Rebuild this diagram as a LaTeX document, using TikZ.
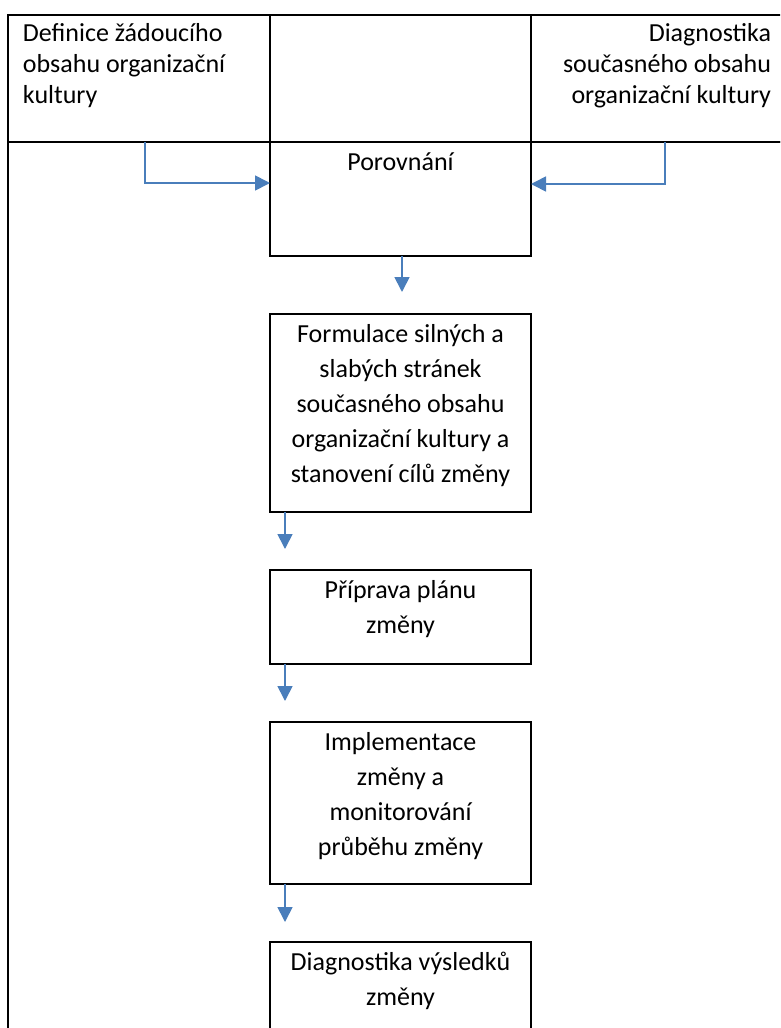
\documentclass[tikz,border=0pt]{standalone}
\usepackage{fontspec}
\setmainfont{Carlito}
\usetikzlibrary{arrows.meta,calc,positioning}
\definecolor{flowblue}{HTML}{4A7EBB}
% obsah bunky / kroku: pevna vyska, text nahore
\newcommand{\cellbody}[3]{\parbox[t][127pt][t]{#1}{#2\rule{0pt}{26pt}#3}}
\newcommand{\stepbody}[2]{\parbox[t][#1][t]{261pt}{\centering\rule{0pt}{28pt}#2}}

\begin{document}
\begin{tikzpicture}[x=1pt, y=-1pt,
  cell/.style={draw, line width=2.4pt, anchor=north west, outer sep=0pt,
    inner xsep=15pt, inner ysep=0pt, font=\fontsize{26}{31}\selectfont},
  stepbox/.style={draw, line width=2.6pt, anchor=north, outer sep=0pt, inner sep=0pt,
    font=\fontsize{26}{35}\selectfont},
  flow/.style={draw=flowblue, line width=1.7pt, -{Triangle[length=15pt,width=15pt]}},
  node distance=58pt]
\useasboundingbox (0,0) rectangle (780,1028);
\clip (0,0) rectangle (780,1028);
% tabulka nahore
\node[cell] (want) at (8,15) {\cellbody{232pt}{\raggedright}{Definice žádoucího\\obsahu organizační\\kultury}};
\node[cell] (mid) at (270,15) {\cellbody{231pt}{}{}};
\node[cell] (now) at (531,15) {\cellbody{225pt}{\raggedleft}{Diagnostika\\současného obsahu\\organizační kultury}};
\node[cell, minimum width=778pt, minimum height=900pt] (frame) at (8,142) {};
% kroky
\node[stepbox] (cmp) at (400.5,142) {\stepbody{114pt}{Porovnání}};
\node[stepbox, below=of cmp] (form) {\stepbody{198pt}{Formulace silných a\\slabých stránek\\současného obsahu\\organizační kultury a\\stanovení cílů změny}};
\node[stepbox, below=of form] (plan) {\stepbody{94pt}{Příprava plánu\\změny}};
\node[stepbox, below=of plan] (impl) {\stepbody{162pt}{Implementace\\změny a\\monitorování\\průběhu změny}};
\node[stepbox, below=of impl] (diag) {\stepbody{120pt}{Diagnostika výsledků\\změny}};
% sipky do porovnani
\coordinate (lbend) at (145,183);
\coordinate (rbend) at (665,184);
\draw[flow] (want.south -| lbend) |- (cmp.west |- lbend);
\draw[flow] (now.south -| rbend) |- (cmp.east |- rbend);
% sipky dolu
\coordinate (a1) at (402,292);
\coordinate (a2) at (285,549);
\coordinate (a3) at (285,701);
\coordinate (a4) at (285,922);
\draw[flow] (cmp.south -| a1) -- (a1);
\draw[flow] (form.south -| a2) -- (a2);
\draw[flow] (plan.south -| a3) -- (a3);
\draw[flow] (impl.south -| a4) -- (a4);
\end{tikzpicture}
\end{document}
